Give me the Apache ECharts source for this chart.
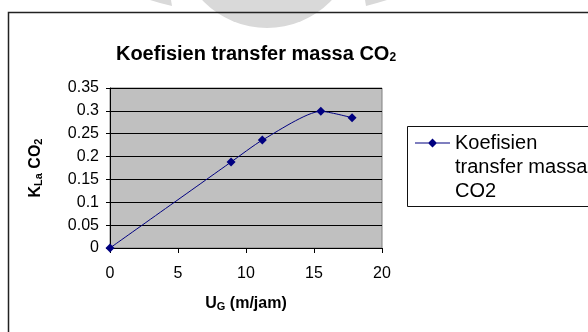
<!DOCTYPE html>
<html>
<head>
<meta charset="utf-8">
<script src="https://cdn.jsdelivr.net/npm/echarts@6/dist/echarts.min.js"></script>
<style>
html,body{margin:0;padding:0;background:#fff;}
#chart{width:588px;height:332px;}
</style>
</head>
<body>
<div id="chart"></div>
<script>
// Data
const seriesName = 'Koefisien transfer massa CO2';
const ugValues = [0, 8.9, 11.2, 15.5, 17.8];        // U_G (m/jam)
const klaValues = [0, 0.188, 0.236, 0.299, 0.285];  // K_La CO2
const yTicks = [0, 0.05, 0.1, 0.15, 0.2, 0.25, 0.3, 0.35];
const xTicks = [0, 5, 10, 15, 20];

const FONT = 'Liberation Sans, Arial, sans-serif';
const chart = echarts.init(document.getElementById('chart'), null, {renderer: 'canvas'});

// legend icon: a line with a diamond drawn at the top of a 35x72 box (aligned with first text line)
const legendIconPath = 'path://M0,11.4 L35,11.4 L35,12.6 L0,12.6 Z ' +
  'M17.5,7.5 L22,12 L17.5,16.5 L13,12 Z ' +
  'M0,72 L0.01,72 L0,71.99 Z M35,0 L34.99,0 L35,0.01 Z';

const option = {
  backgroundColor: '#ffffff',
  animation: false,
  title: {
    text: '{t|Koefisien transfer massa CO}{s|2}',
    left: 256, top: 40, textAlign: 'center', padding: 0,
    textStyle: {
      rich: {
        t: {fontFamily: FONT, fontWeight: 'bold', fontSize: 20, color: '#000', lineHeight: 24, verticalAlign: 'bottom'},
        s: {fontFamily: FONT, fontWeight: 'bold', fontSize: 12, color: '#000', lineHeight: 16, verticalAlign: 'bottom'}
      }
    }
  },
  grid: {
    left: 110, top: 88, width: 272, height: 160,
    show: true, backgroundColor: '#c0c0c0', borderColor: '#808080', borderWidth: 1,
    containLabel: false
  },
  legend: {
    show: true,
    left: 415, top: 131,
    padding: 0,
    itemWidth: 35, itemHeight: 72, itemGap: 0,
    data: [{name: seriesName, icon: legendIconPath}],
    itemStyle: {color: '#000080'},
    formatter: function () { return 'Koefisien\ntransfer massa\nCO2'; },
    textStyle: {fontFamily: FONT, fontSize: 20, color: '#000', lineHeight: 24}
  },
  xAxis: {
    type: 'value', min: xTicks[0], max: xTicks[xTicks.length - 1], interval: 5,
    name: '{b|U}{s|G}{b| (m/jam)}',
    nameLocation: 'middle', nameGap: 44,
    nameTextStyle: {
      rich: {
        b: {fontFamily: FONT, fontWeight: 'bold', fontSize: 16, color: '#000', lineHeight: 20, verticalAlign: 'bottom'},
        s: {fontFamily: FONT, fontWeight: 'bold', fontSize: 11, color: '#000', lineHeight: 14, verticalAlign: 'bottom'}
      }
    },
    axisLine: {show: true, onZero: false, lineStyle: {color: '#000', width: 1}},
    axisTick: {show: true, inside: false, length: 5, lineStyle: {color: '#000'}},
    axisLabel: {fontFamily: FONT, fontSize: 16, color: '#000', margin: 18},
    splitLine: {show: false}
  },
  yAxis: {
    type: 'value', min: yTicks[0], max: yTicks[yTicks.length - 1], interval: 0.05,
    name: '{b|K}{s|La}{b| CO}{s|2}',
    nameLocation: 'middle', nameRotate: 90, nameGap: 66,
    nameTextStyle: {
      rich: {
        b: {fontFamily: FONT, fontWeight: 'bold', fontSize: 16, color: '#000', lineHeight: 20, verticalAlign: 'bottom'},
        s: {fontFamily: FONT, fontWeight: 'bold', fontSize: 11, color: '#000', lineHeight: 14, verticalAlign: 'bottom'}
      }
    },
    axisLine: {show: true, onZero: false, lineStyle: {color: '#000', width: 1}},
    axisTick: {show: true, inside: false, length: 4, lineStyle: {color: '#000'}},
    axisLabel: {
      fontFamily: FONT, fontSize: 16, color: '#000', margin: 11,
      formatter: function (v) { return String(+v.toFixed(2)); }
    },
    splitLine: {show: true, lineStyle: {color: '#000', width: 1}}
  },
  series: [{
    name: seriesName,
    type: 'line',
    data: ugValues.map((x, i) => [x, klaValues[i]]),
    smooth: 0.22,
    symbol: 'diamond', symbolSize: 9,
    itemStyle: {color: '#000080'},
    lineStyle: {color: '#000080', width: 1}
  }],
  graphic: [
    // faint watermark shapes at top of the page
    {type: 'circle', z: 0, shape: {cx: 267, cy: -61, r: 89}, style: {fill: '#d9d9d9'}, silent: true},
    {type: 'polygon', z: 0, shape: {points: [[150, 0], [171, 0], [172, 6], [160, 3]]}, style: {fill: '#d9d9d9'}, silent: true},
    {type: 'polygon', z: 0, shape: {points: [[365, 0], [387, 0], [377, 3], [366, 6]]}, style: {fill: '#d9d9d9'}, silent: true},
    // chart outer frame
    {type: 'rect', z: 1, shape: {x: 8.5, y: 12.5, width: 620, height: 400}, style: {fill: 'none', stroke: '#222', lineWidth: 1.5}, silent: true},
    // legend frame
    {type: 'rect', z: 1, shape: {x: 407.5, y: 126.5, width: 220, height: 80}, style: {fill: 'none', stroke: '#111', lineWidth: 1}, silent: true}
  ]
};
chart.setOption(option);
</script>
</body>
</html>
